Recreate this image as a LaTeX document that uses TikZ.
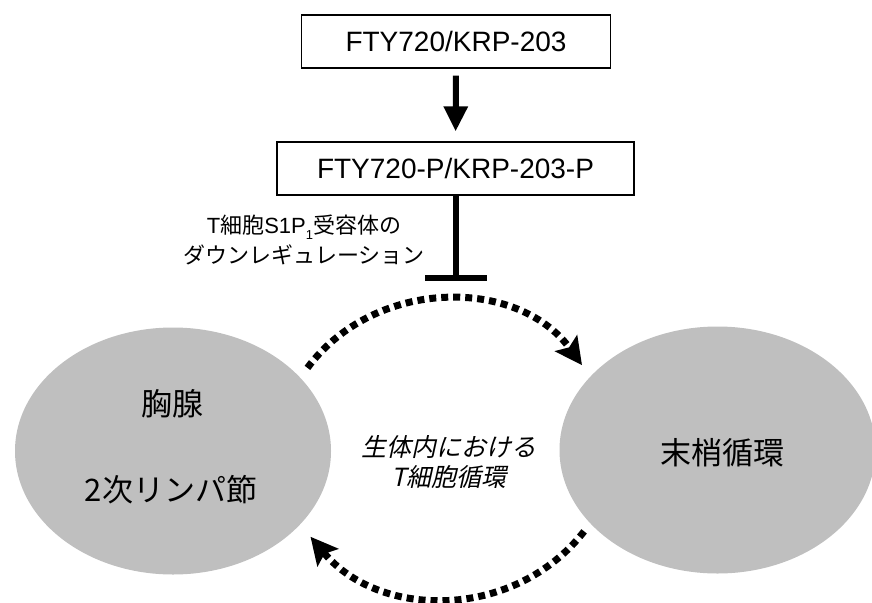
\documentclass[tikz,border=0pt]{standalone}
\usepackage{fontspec}
\setmainfont{Liberation Sans}
\newfontfamily\jp{Noto Sans CJK JP}
\newfontfamily\jpit[FakeSlant=0.22]{Noto Sans CJK JP}
\usetikzlibrary{shapes.geometric,arrows.meta}

\begin{document}
\begin{tikzpicture}[x=1pt,y=-1pt,
    drug/.style={draw, line width=1.2pt, minimum height=53pt, inner sep=0pt, font=\fontsize{28}{32}\selectfont},
    organ/.style={ellipse, fill=black!25, minimum width=316pt, minimum height=247pt, inner sep=0pt},
    bigtext/.style={font=\jp\fontsize{31}{36}\selectfont},
    flow/.style={line width=7pt, dash pattern=on 7pt off 5pt, -{Stealth[length=27pt,width=27pt,inset=5pt]}}]
    \useasboundingbox (0,0) rectangle (872,602);

    % drugs
    \node[drug, minimum width=309pt] (fty) at (456,41.5) {FTY720/KRP-203};
    \node[drug, minimum width=357pt] (ftyp) at (455.5,168.5) {FTY720-P/KRP-203-P};
    \draw[line width=6pt, -{Triangle[length=25pt,width=23pt]}, shorten <=7pt, shorten >=10pt] (fty) -- (ftyp);
    \coordinate (block) at (455.5,281);
    \draw[line width=6pt, -{Bar[width=62pt]}] (ftyp) -- (block);
    \node[font=\fontsize{22}{30}\selectfont, align=center] (downreg) at (304,240)
        {T{\jp 細胞}S1P\raisebox{-0.25em}{\fontsize{13}{13}\selectfont 1}{\jp 受容体の}\\{\jp ダウンレギュレーション}};

    % organs
    \node[organ] (thymus) at (173,451) {};
    \node[organ] (blood) at (717.5,450) {};
    \node[bigtext] (thymtxt) at (172,404) {胸腺};
    \node[bigtext] (lntxt) at (171,490) {2次リンパ節};
    \node[bigtext] (bloodtxt) at (722,453) {末梢循環};

    % circulation
    \draw[flow, shorten <=12pt, shorten >=14pt] (thymus.30) .. controls (375,277) and (518,277) .. (blood.150);
    \draw[flow, shorten <=10pt, shorten >=16pt] (blood.210) .. controls (515,620) and (380,620) .. (thymus.-30);
    \node[font=\jpit\fontsize{25}{30}\selectfont, align=center] (cycle) at (449,462) {生体内における\\T細胞循環};
\end{tikzpicture}
\end{document}
